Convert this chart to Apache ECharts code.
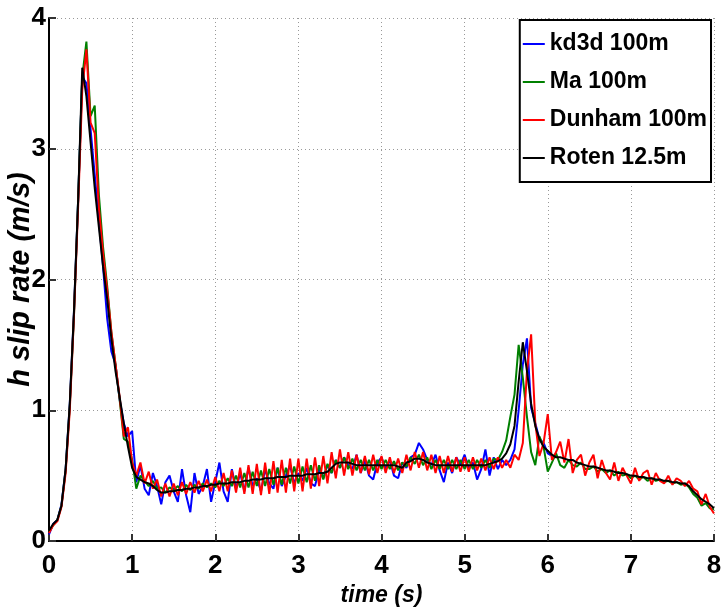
<!DOCTYPE html>
<html>

<head>
	<meta charset="utf-8" />
	<title></title>
	<script type="text/javascript" src="https://cdn.jsdelivr.net/npm/echarts@6/dist/echarts.min.js"></script>
</head>

<body style="margin:0;">
	<div id="main" style="width: 721px;height:611px;"></div>
</body>
<script>
	// time axis (s), 0.05 s step
	var timeS = [
		0, 0.05, 0.1, 0.15, 0.2, 0.25, 0.3, 0.35, 0.4, 0.45,
		0.5, 0.55, 0.6, 0.65, 0.7, 0.75, 0.8, 0.85, 0.9, 0.95,
		1, 1.05, 1.1, 1.15, 1.2, 1.25, 1.3, 1.35, 1.4, 1.45,
		1.5, 1.55, 1.6, 1.65, 1.7, 1.75, 1.8, 1.85, 1.9, 1.95,
		2, 2.05, 2.1, 2.15, 2.2, 2.25, 2.3, 2.35, 2.4, 2.45,
		2.5, 2.55, 2.6, 2.65, 2.7, 2.75, 2.8, 2.85, 2.9, 2.95,
		3, 3.05, 3.1, 3.15, 3.2, 3.25, 3.3, 3.35, 3.4, 3.45,
		3.5, 3.55, 3.6, 3.65, 3.7, 3.75, 3.8, 3.85, 3.9, 3.95,
		4, 4.05, 4.1, 4.15, 4.2, 4.25, 4.3, 4.35, 4.4, 4.45,
		4.5, 4.55, 4.6, 4.65, 4.7, 4.75, 4.8, 4.85, 4.9, 4.95,
		5, 5.05, 5.1, 5.15, 5.2, 5.25, 5.3, 5.35, 5.4, 5.45,
		5.5, 5.55, 5.6, 5.65, 5.7, 5.75, 5.8, 5.85, 5.9, 5.95,
		6, 6.05, 6.1, 6.15, 6.2, 6.25, 6.3, 6.35, 6.4, 6.45,
		6.5, 6.55, 6.6, 6.65, 6.7, 6.75, 6.8, 6.85, 6.9, 6.95,
		7, 7.05, 7.1, 7.15, 7.2, 7.25, 7.3, 7.35, 7.4, 7.45,
		7.5, 7.55, 7.6, 7.65, 7.7, 7.75, 7.8, 7.85, 7.9, 7.95, 8
	];

	// kd3d 100m (stops near 6.05 s)
	var kd3d = [
		0.05, 0.13, 0.16, 0.28, 0.55, 1.05, 1.75, 2.6, 3.55, 3.5,
		3.15, 2.8, 2.45, 2.1, 1.7, 1.45, 1.35, 1.08, 0.9, 0.8,
		0.84, 0.45, 0.58, 0.40, 0.35, 0.52, 0.42, 0.28, 0.45, 0.50,
		0.38, 0.30, 0.55, 0.35, 0.22, 0.52, 0.36, 0.42, 0.55, 0.30,
		0.45, 0.60, 0.38, 0.30, 0.55, 0.40, 0.52, 0.38, 0.56, 0.42,
		0.48, 0.38, 0.55, 0.44, 0.40, 0.56, 0.42, 0.50, 0.58, 0.44,
		0.52, 0.46, 0.56, 0.44, 0.42, 0.55, 0.48, 0.58, 0.52, 0.62,
		0.56, 0.64, 0.58, 0.55, 0.66, 0.52, 0.62, 0.50, 0.47, 0.60,
		0.64, 0.55, 0.62, 0.50, 0.48, 0.60, 0.56, 0.64, 0.66, 0.75,
		0.70, 0.62, 0.58, 0.66, 0.54, 0.45, 0.60, 0.52, 0.64, 0.58,
		0.66, 0.55, 0.60, 0.47, 0.55, 0.70, 0.50, 0.64, 0.55, 0.62,
		0.58, 0.62, 0.70, 1.0, 1.35, 1.55, 1.02, 0.9, 0.78, 0.75,
		0.67, 0.65
	];

	// Ma 100m
	var ma = [
		0.07, 0.12, 0.16, 0.27, 0.54, 1.03, 1.72, 2.6, 3.55, 3.82,
		3.25, 3.33, 2.65, 2.25, 1.95, 1.6, 1.35, 1.08, 0.78, 0.76,
		0.62, 0.40, 0.50, 0.46, 0.42, 0.46, 0.40, 0.41, 0.37, 0.41,
		0.39, 0.42, 0.38, 0.43, 0.39, 0.43, 0.40, 0.44, 0.41, 0.44,
		0.41, 0.46, 0.42, 0.48, 0.42, 0.50, 0.41, 0.52, 0.41, 0.53,
		0.42, 0.54, 0.42, 0.55, 0.43, 0.56, 0.43, 0.56, 0.44, 0.57,
		0.44, 0.57, 0.45, 0.58, 0.46, 0.58, 0.47, 0.59, 0.52, 0.62,
		0.56, 0.64, 0.55, 0.63, 0.54, 0.62, 0.54, 0.62, 0.54, 0.62,
		0.55, 0.62, 0.55, 0.61, 0.54, 0.60, 0.57, 0.64, 0.59, 0.66,
		0.58, 0.64, 0.55, 0.62, 0.55, 0.62, 0.55, 0.62, 0.55, 0.62,
		0.55, 0.62, 0.55, 0.62, 0.56, 0.62, 0.56, 0.63, 0.62, 0.68,
		0.77, 0.95, 1.12, 1.5, 1.25, 0.95, 0.68, 0.58, 0.8, 0.72,
		0.53, 0.60, 0.67, 0.58, 0.56, 0.62, 0.58, 0.57, 0.60, 0.55,
		0.55, 0.57, 0.53, 0.55, 0.52, 0.54, 0.50, 0.53, 0.50, 0.51,
		0.48, 0.50, 0.47, 0.49, 0.46, 0.48, 0.46, 0.47, 0.45, 0.46,
		0.44, 0.45, 0.43, 0.44, 0.41, 0.36, 0.33, 0.27, 0.29, 0.25, 0.24
	];

	// Dunham 100m
	var dunham = [
		0.06, 0.12, 0.15, 0.26, 0.52, 1.0, 1.72, 2.55, 3.45, 3.76,
		3.2, 3.12, 2.55, 2.2, 1.92, 1.6, 1.35, 1.1, 0.8, 0.87,
		0.6, 0.5, 0.6, 0.44, 0.53, 0.40, 0.47, 0.34, 0.44, 0.34,
		0.44, 0.35, 0.45, 0.36, 0.45, 0.37, 0.46, 0.38, 0.47, 0.38,
		0.49, 0.38, 0.52, 0.38, 0.54, 0.37, 0.56, 0.36, 0.58, 0.36,
		0.59, 0.35, 0.60, 0.36, 0.61, 0.37, 0.62, 0.37, 0.63, 0.38,
		0.63, 0.38, 0.63, 0.40, 0.64, 0.42, 0.65, 0.44, 0.68, 0.48,
		0.70, 0.50, 0.68, 0.50, 0.66, 0.52, 0.65, 0.51, 0.66, 0.52,
		0.65, 0.52, 0.64, 0.52, 0.63, 0.52, 0.66, 0.54, 0.68, 0.56,
		0.68, 0.54, 0.66, 0.52, 0.65, 0.52, 0.65, 0.53, 0.64, 0.53,
		0.64, 0.53, 0.64, 0.54, 0.63, 0.54, 0.64, 0.55, 0.64, 0.56,
		0.62, 0.56, 0.66, 0.62, 0.75, 1.3, 1.58, 0.9, 0.65, 0.75,
		0.97, 0.62, 0.68, 0.76, 0.60, 0.78, 0.52, 0.62, 0.66, 0.50,
		0.60, 0.66, 0.48, 0.62, 0.52, 0.47, 0.60, 0.46, 0.56, 0.50,
		0.44, 0.56, 0.46, 0.52, 0.54, 0.43, 0.52, 0.46, 0.44, 0.50,
		0.43, 0.48, 0.46, 0.42, 0.46, 0.40, 0.38, 0.28, 0.36, 0.26, 0.21
	];

	// Roten 12.5m
	var roten = [
		0.08, 0.13, 0.16, 0.27, 0.55, 1.05, 1.75, 2.6, 3.62, 3.4,
		3.05, 2.7, 2.4, 2.1, 1.85, 1.55, 1.3, 1.1, 0.9, 0.72,
		0.56, 0.49, 0.47, 0.45, 0.44, 0.42, 0.39, 0.37, 0.37, 0.38,
		0.38, 0.39, 0.39, 0.40, 0.40, 0.41, 0.41, 0.42, 0.42, 0.43,
		0.43, 0.44, 0.44, 0.44, 0.45, 0.45, 0.45, 0.46, 0.46, 0.47,
		0.47, 0.47, 0.48, 0.48, 0.48, 0.49, 0.49, 0.49, 0.50, 0.50,
		0.50, 0.50, 0.51, 0.51, 0.51, 0.52, 0.52, 0.53, 0.56, 0.59,
		0.60, 0.60, 0.60, 0.59, 0.58, 0.58, 0.58, 0.58, 0.58, 0.58,
		0.58, 0.58, 0.58, 0.58, 0.57, 0.56, 0.60, 0.61, 0.63, 0.63,
		0.62, 0.60, 0.59, 0.58, 0.58, 0.58, 0.58, 0.58, 0.58, 0.58,
		0.58, 0.58, 0.58, 0.58, 0.58, 0.58, 0.59, 0.60, 0.61, 0.63,
		0.67, 0.74, 0.88, 1.22, 1.52, 1.3, 1.05, 0.88, 0.78, 0.72,
		0.69, 0.66, 0.64, 0.64, 0.63, 0.62, 0.62, 0.60, 0.59, 0.58,
		0.57, 0.57, 0.56, 0.55, 0.54, 0.54, 0.53, 0.52, 0.52, 0.51,
		0.50, 0.50, 0.49, 0.49, 0.48, 0.48, 0.47, 0.47, 0.46, 0.46,
		0.45, 0.45, 0.44, 0.44, 0.42, 0.38, 0.35, 0.32, 0.30, 0.28, 0.25
	];

	var seriesNames = ['kd3d 100m', 'Ma 100m', 'Dunham 100m', 'Roten 12.5m'];
	var seriesColors = ['#0000ff', '#008000', '#ff0000', '#000000'];
	var seriesValues = [kd3d, ma, dunham, roten];

	var font = "'Liberation Sans', Arial, sans-serif";

	function pairs(vals) {
		var out = [];
		for (let i = 0; i < vals.length; i++) {
			out.push([timeS[i], vals[i]]);
		}
		return out;
	}

	var myChart = echarts.init(document.getElementById('main'));
	var option = {
		animation: false,
		backgroundColor: '#fff',
		grid: {
			left: 49,
			right: 7,
			top: 18,
			bottom: 70,
			containLabel: false,
			outerBoundsMode: 'none'
		},
		legend: {
			orient: 'vertical',
			right: 10,
			top: 20,
			backgroundColor: '#fff',
			borderColor: '#000',
			borderWidth: 2,
			borderRadius: 0,
			padding: [9, 4, 9, 3],
			itemGap: 8,
			itemWidth: 22,
			itemHeight: 2,
			icon: 'rect',
			textStyle: {
				fontSize: 23,
				lineHeight: 30,
				fontWeight: 'bold',
				color: '#000',
				fontFamily: font
			},
			data: seriesNames
		},
		xAxis: {
			type: 'value',
			min: 0,
			max: 8,
			interval: 1,
			name: 'time (s)',
			nameLocation: 'middle',
			nameGap: 43,
			nameMoveOverlap: false,
			nameTextStyle: {
				fontSize: 23,
				fontWeight: 'bold',
				fontStyle: 'italic',
				color: '#000',
				fontFamily: font
			},
			axisLine: { lineStyle: { color: '#000', width: 2 } },
			axisTick: { inside: true, length: 7, lineStyle: { color: '#333', width: 2 } },
			axisLabel: { fontSize: 26, fontWeight: 'bold', color: '#000', margin: 12, fontFamily: font },
			splitLine: { show: true, lineStyle: { type: [1, 3], color: '#999', width: 1 } }
		},
		yAxis: {
			type: 'value',
			min: 0,
			max: 4,
			interval: 1,
			name: 'h slip rate (m/s)',
			nameLocation: 'middle',
			nameGap: 14,
			nameMoveOverlap: false,
			nameTextStyle: {
				fontSize: 29,
				fontWeight: 'bold',
				fontStyle: 'italic',
				color: '#000',
				fontFamily: font
			},
			axisLine: { lineStyle: { color: '#000', width: 2 } },
			axisTick: { inside: true, length: 7, lineStyle: { color: '#333', width: 2 } },
			axisLabel: { fontSize: 26, fontWeight: 'bold', color: '#000', margin: 3, fontFamily: font },
			splitLine: { show: true, lineStyle: { type: [1, 3], color: '#999', width: 1 } }
		},
		series: seriesNames.map(function (name, k) {
			return {
				name: name,
				type: 'line',
				showSymbol: false,
				symbol: 'none',
				color: seriesColors[k],
				lineStyle: { width: 2, color: seriesColors[k] },
				data: pairs(seriesValues[k])
			};
		})
	};
	myChart.setOption(option);
</script>

</html>
